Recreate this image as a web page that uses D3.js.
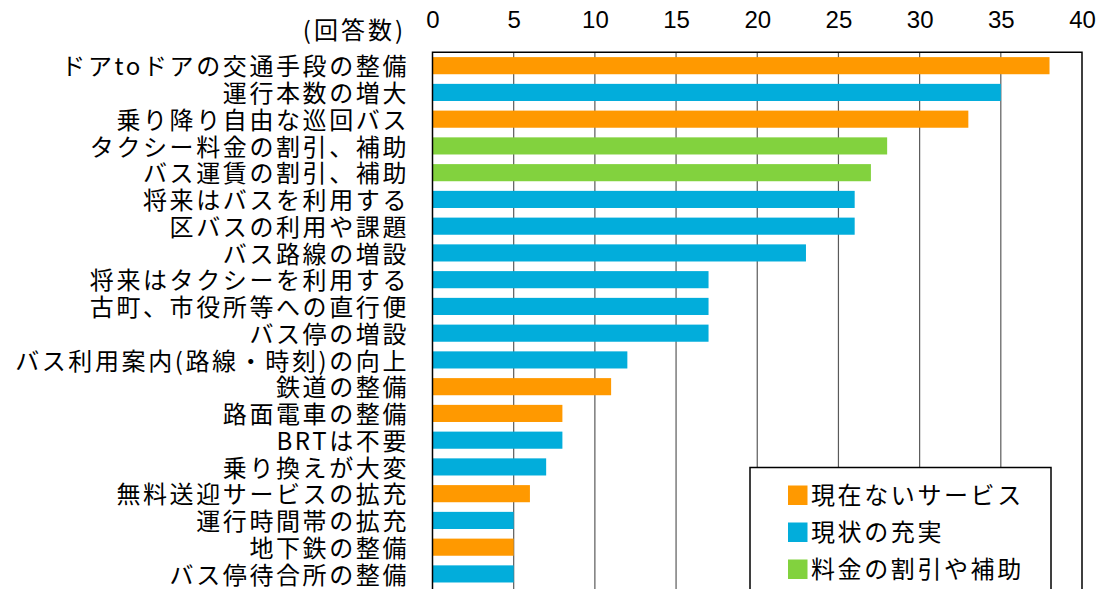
<!DOCTYPE html>
<html>
<head>
<meta charset="utf-8">
<script src="https://cdn.jsdelivr.net/npm/d3@7"></script>
<style>
    body { margin: 0; background: #fff; }
    svg { display: block; }
    .cat-label, .legend-label, .unit-label { font-family: "Noto Sans CJK JP", sans-serif; fill: #000; }
    .tick text { font-family: "Liberation Sans", Arial, sans-serif; font-size: 24px; fill: #000; }
</style>
</head>
<body>
<script>
// categories, top to bottom
const categories = [
    'ドアtoドアの交通手段の整備',
    '運行本数の増大',
    '乗り降り自由な巡回バス',
    'タクシー料金の割引、補助',
    'バス運賃の割引、補助',
    '将来はバスを利用する',
    '区バスの利用や課題',
    'バス路線の増設',
    '将来はタクシーを利用する',
    '古町、市役所等への直行便',
    'バス停の増設',
    'バス利用案内(路線・時刻)の向上',
    '鉄道の整備',
    '路面電車の整備',
    'BRTは不要',
    '乗り換えが大変',
    '無料送迎サービスの拡充',
    '運行時間帯の拡充',
    '地下鉄の整備',
    'バス停待合所の整備'
];

// number of answers
const counts = [38, 35, 33, 28, 27, 26, 26, 23, 17, 17, 17, 12, 11, 8, 8, 7, 6, 5, 5, 5];

// group of each answer (index into groupNames)
const groups = [0, 1, 0, 2, 2, 1, 1, 1, 1, 1, 1, 1, 0, 0, 1, 1, 0, 1, 0, 1];

const groupNames = ['現在ないサービス', '現状の充実', '料金の割引や補助'];
const groupColors = ['#ff9900', '#02addb', '#82d23e'];

const xTicks = [0, 5, 10, 15, 20, 25, 30, 35, 40];

const width = 1104;
const height = 589;

const svg = d3.select('body')
    .append('svg')
    .attr('width', width)
    .attr('height', height);

const plotLeft = 432.5;
const plotRight = 1082;
const plotTop = 52.3;
const plotBottom = 587.3;

const x = d3.scaleLinear()
    .domain([0, 40])
    .range([plotLeft, plotRight]);

const y = d3.scaleBand()
    .domain(categories)
    .range([plotTop, plotBottom])
    .paddingInner(0.36)
    .paddingOuter(0.18);

const color = d3.scaleOrdinal()
    .domain(d3.range(groupNames.length))
    .range(groupColors);

// vertical grid lines
svg.append('g')
    .selectAll('line')
    .data(xTicks.slice(1, -1))
    .enter()
    .append('line')
    .attr('x1', d => x(d))
    .attr('x2', d => x(d))
    .attr('y1', plotTop)
    .attr('y2', height + 2)
    .attr('stroke', '#5a5a5a')
    .attr('stroke-width', 1.2);

// bars
svg.append('g')
    .selectAll('rect')
    .data(categories)
    .enter()
    .append('rect')
    .attr('x', x(0))
    .attr('y', d => y(d))
    .attr('width', (d, i) => x(counts[i]) - x(0))
    .attr('height', y.bandwidth())
    .attr('fill', (d, i) => color(groups[i]));

// plot frame (bottom edge falls outside the picture)
svg.append('path')
    .attr('d', `M${plotLeft},${height + 2}V${plotTop}H${plotRight}V${height + 2}`)
    .attr('fill', 'none')
    .attr('stroke', '#000')
    .attr('stroke-width', 1.5);

// top axis labels
const xAxis = svg.append('g')
    .attr('transform', 'translate(0, 28)')
    .call(d3.axisTop(x).tickValues(xTicks).tickSize(0).tickPadding(0));
xAxis.select('.domain').remove();

svg.append('text')
    .attr('class', 'unit-label')
    .attr('x', 406)
    .attr('y', 30)
    .attr('dy', '0.36em')
    .attr('text-anchor', 'end')
    .style('font-size', '24px')
    .style('letter-spacing', '3px')
    .text('(回答数)');

// category labels
svg.append('g')
    .selectAll('text')
    .data(categories)
    .enter()
    .append('text')
    .attr('class', 'cat-label')
    .attr('x', 409)
    .attr('y', d => y(d) + y.bandwidth() / 2 + 1)
    .attr('dy', '0.36em')
    .attr('text-anchor', 'end')
    .style('font-size', '24px')
    .style('letter-spacing', '2.6px')
    .text(d => d);

// legend
const legend = svg.append('g')
    .attr('transform', 'translate(750, 467.5)');

legend.append('rect')
    .attr('width', 301)
    .attr('height', 140)
    .attr('fill', '#fff')
    .attr('stroke', '#000')
    .attr('stroke-width', 1.5);

const items = legend.selectAll('g.item')
    .data(groupNames)
    .enter()
    .append('g')
    .attr('class', 'item')
    .attr('transform', (d, i) => `translate(38, ${28 + i * 37})`);

items.append('rect')
    .attr('y', -10)
    .attr('width', 19.5)
    .attr('height', 19.5)
    .attr('fill', (d, i) => color(i));

items.append('text')
    .attr('class', 'legend-label')
    .attr('x', 23)
    .attr('y', 0)
    .attr('dy', '0.36em')
    .style('font-size', '24px')
    .style('letter-spacing', '2.6px')
    .text(d => d);
</script>
</body>
</html>
